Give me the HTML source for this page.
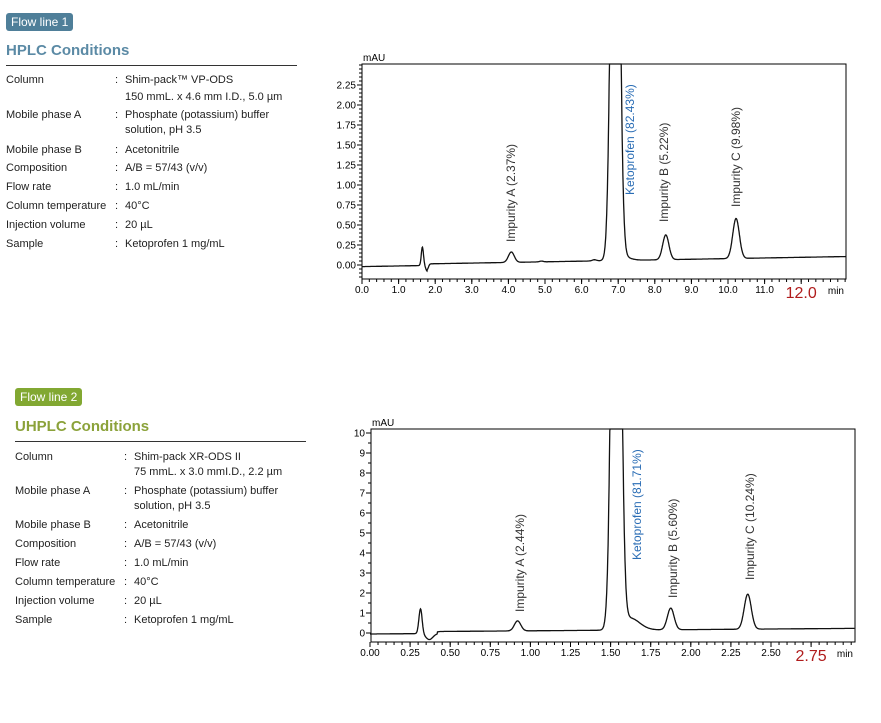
<!DOCTYPE html>
<html><head><meta charset="utf-8"><style>
body{margin:0;width:881px;height:723px;background:#fff;font-family:"Liberation Sans",sans-serif;position:relative;overflow:hidden;color:#222}
.badge{position:absolute;color:#fff;font-size:12px;padding:0 5px;height:18px;line-height:18px;border-radius:3px}
.h{position:absolute;font-weight:bold;font-size:15px}
.ln{position:absolute;height:1px;background:#333}
.r{position:absolute;font-size:11px;white-space:nowrap}
svg{position:absolute;left:0;top:0}
</style></head><body>
<div class="badge" style="left:6px;top:13px;background:#4f7f99">Flow line 1</div>
<div class="h" style="left:6px;top:42px;color:#5b8aa5">HPLC Conditions</div>
<div class="ln" style="left:6px;top:65px;width:291px"></div>
<div class="badge" style="left:15px;top:388px;background:#82a832">Flow line 2</div>
<div class="h" style="left:15px;top:418px;color:#8ba23a">UHPLC Conditions</div>
<div class="ln" style="left:15px;top:441px;width:291px"></div>
<div id="rows"></div>
<svg id="s" width="881" height="723" xmlns="http://www.w3.org/2000/svg" font-family="Liberation Sans, sans-serif"></svg>
<script>
var rows=document.getElementById('rows'),h='';
function tbl(x,ys,vals){var L=['Column','','Mobile phase A','','Mobile phase B','Composition','Flow rate','Column temperature','Injection volume','Sample'];
for(var i=0;i<10;i++){var y=ys[i]-7;if(L[i])h+='<div class="r" style="left:'+x+'px;top:'+y+'px">'+L[i]+'</div><div class="r" style="left:'+(x+109)+'px;top:'+y+'px">:</div>';
h+='<div class="r" style="left:'+(x+119)+'px;top:'+y+'px">'+vals[i]+'</div>';}}
tbl(6,[81,98,116,131,151,169,188,207,226,245],['Shim-pack™ VP-ODS','150 mmL. x 4.6 mm I.D., 5.0 µm','Phosphate (potassium) buffer','solution, pH 3.5','Acetonitrile','A/B = 57/43 (v/v)','1.0 mL/min','40°C','20 µL','Ketoprofen 1 mg/mL']);
tbl(15,[458,473,492,507,526,545,564,583,602,621],['Shim-pack XR-ODS II','75 mmL. x 3.0 mmI.D., 2.2 µm','Phosphate (potassium) buffer','solution, pH 3.5','Acetonitrile','A/B = 57/43 (v/v)','1.0 mL/min','40°C','20 µL','Ketoprofen 1 mg/mL']);
rows.innerHTML=h;
var s='';
function g(x,m,sg,a){return a*Math.exp(-(x-m)*(x-m)/(2*sg*sg));}
function chart(c){
 var X=function(v){return c.x0+v*c.sx},Y=function(v){return c.y0-v*c.sy};
 s+='<rect x="'+c.L+'" y="'+c.T+'" width="'+(c.R-c.L)+'" height="'+(c.B-c.T)+'" fill="none" stroke="#000" stroke-width="1"/>';
 s+='<text x="'+(c.L+1)+'" y="'+(c.T-3)+'" font-size="10">mAU</text>';
 c.yt.forEach(function(v){var y=Y(v);s+='<line x1="'+(c.L-5)+'" x2="'+c.L+'" y1="'+y+'" y2="'+y+'" stroke="#000"/><text x="'+(c.L-6)+'" y="'+(y+3.5)+'" font-size="10" text-anchor="end">'+c.yf(v)+'</text>';});
 for(var v=c.ymn;v<=c.ymx;v+=c.ym){var y=Y(v);if(y>c.T&&y<c.B)s+='<line x1="'+(c.L-3)+'" x2="'+c.L+'" y1="'+y+'" y2="'+y+'" stroke="#000"/>';}
 c.xt.forEach(function(v){var x=X(v);s+='<line x1="'+x+'" x2="'+x+'" y1="'+c.B+'" y2="'+(c.B+5)+'" stroke="#000"/>';if(v!=c.red)s+='<text x="'+x+'" y="'+(c.B+14)+'" font-size="10" text-anchor="middle">'+c.xf(v)+'</text>';});
 for(var v=0;X(v)<=c.R+0.5;v+=c.xm){var x=X(v);s+='<line x1="'+x+'" x2="'+x+'" y1="'+c.B+'" y2="'+(c.B+3)+'" stroke="#000"/>';}
 s+='<text x="'+X(c.red)+'" y="'+(c.B+19)+'" font-size="16" fill="#b01c1c" text-anchor="middle">'+c.xf(c.red)+'</text>';
 s+='<text x="'+(c.R-2)+'" y="'+(c.B+15)+'" font-size="10" text-anchor="end">min</text>';
 var p=[];for(var i=0;i<=1400;i++){var v=c.xmax*i/1400,y=c.f(v);var py=Math.max(c.T,Math.min(c.B,Y(y)));p.push(X(v).toFixed(1)+','+py.toFixed(1));}
 s+='<polyline points="'+p.join(' ')+'" fill="none" stroke="#111" stroke-width="1.3"/>';
 c.lab.forEach(function(l){s+='<text transform="translate('+l[0]+','+l[1]+') rotate(-90)" font-size="12" fill="'+(l[3]||'#333')+'">'+l[2]+'</text>';});
}
chart({L:362,T:64,R:846,B:279,x0:362,sx:36.6,y0:265,sy:80,xmax:13.22,
 yt:[0,0.25,0.5,0.75,1,1.25,1.5,1.75,2,2.25],yf:function(v){return v.toFixed(2)},ymn:-0.15,ymx:2.5,ym:0.05,
 xt:[0,1,2,3,4,5,6,7,8,9,10,11,12],xf:function(v){return v.toFixed(1)},xm:0.2,red:12,
 f:function(x){return -0.02+0.008*x+g(x,1.65,0.03,0.23)-g(x,1.78,0.035,0.07)+g(x,4.08,0.08,0.13)+g(x,4.9,0.05,0.01)+g(x,6.35,0.06,0.015)+g(x,6.92,0.1,9)+g(x,7.1,0.2,0.05)+g(x,8.3,0.085,0.31)+g(x,10.22,0.09,0.5)+(x>1.78?0.02:0);},
 lab:[[515,242,'Impurity A (2.37%)'],[634,195,'Ketoprofen (82.43%)','#2a6db5'],[668,222,'Impurity B (5.22%)'],[740,207,'Impurity C (9.98%)']]});
chart({L:371,T:429,R:855,B:642,x0:370,sx:160.4,y0:633,sy:20,xmax:3.02,
 yt:[0,1,2,3,4,5,6,7,8,9,10],yf:function(v){return v},ymn:-0.5,ymx:10.5,ym:0.5,
 xt:[0,0.25,0.5,0.75,1,1.25,1.5,1.75,2,2.25,2.5,2.75],xf:function(v){return v.toFixed(2)},xm:0.05,red:2.75,
 f:function(x){return -0.05+0.06*x+g(x,0.315,0.01,1.25)-g(x,0.37,0.022,0.3)+(x>0.42?0.1:0)+g(x,0.92,0.02,0.5)+g(x,1.535,0.024,40)+g(x,1.62,0.06,0.6)+g(x,1.875,0.021,1.08)+g(x,2.355,0.022,1.75);},
 lab:[[524,612,'Impurity A (2.44%)'],[641,560,'Ketoprofen (81.71%)','#2a6db5'],[677,598,'Impurity B (5.60%)'],[754,580,'Impurity C (10.24%)']]});
document.getElementById('s').innerHTML=s;
</script>
</body></html>
